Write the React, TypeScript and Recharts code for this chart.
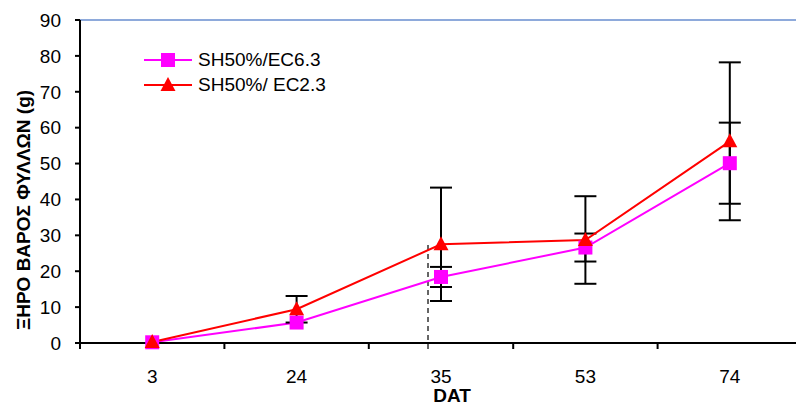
import { LineChart, Line, XAxis, YAxis, ErrorBar, ReferenceLine } from 'recharts';

const days = ['3', '24', '35', '53', '74'];
const ec63 = [0.2, 5.7, 18.4, 26.6, 50.1];
const ec63Err = [null, null, 2.8, 3.9, 11.3];
const ec23 = [0.3, 9.4, 27.5, 28.7, 56.2];
const ec23Err = [null, 3.7, 15.8, 12.2, 22];
const yTicks = [0, 10, 20, 30, 40, 50, 60, 70, 80, 90];

// dashed marker line, in units of the hidden numeric axis (0..5 spans the 5 categories)
const dashX = 2.41;
const dashTop = 27.3;
const dashBottom = -2.8;

const PINK = '#FF00FF';
const RED = '#FF0000';
const FONT = '"Liberation Sans", Arial, sans-serif';

const data = days.map((d, i) => ({
  day: d,
  pos: i + 0.5,
  ec63: ec63[i],
  ec63Err: ec63Err[i],
  ec23: ec23[i],
  ec23Err: ec23Err[i],
}));

const SquareDot = ({ cx, cy }) => {
  if (cx == null || cy == null) return null;
  return <rect x={cx - 7} y={cy - 7} width={14} height={14} fill={PINK} />;
};

const TriangleDot = ({ cx, cy }) => {
  if (cx == null || cy == null) return null;
  return <polygon points={`${cx},${cy - 8} ${cx + 7.5},${cy + 6} ${cx - 7.5},${cy + 6}`} fill={RED} />;
};

const XTick = ({ x, y, payload }) => {
  const half = payload?.offset || 72;
  return (
    <g>
      <line x1={x - half} y1={y} x2={x - half} y2={y + 6} stroke="#000" strokeWidth={2} />
      <text x={x} y={y + 40} textAnchor="middle" fontSize={19} fontFamily={FONT} fill="#000">
        {payload.value}
      </text>
    </g>
  );
};

const LegendRow = ({ color, label, marker }) => (
  <div style={{ display: 'flex', alignItems: 'center', height: 25 }}>
    <svg width={50} height={20}>
      <line x1={1} y1={10} x2={49} y2={10} stroke={color} strokeWidth={2} />
      {marker === 'square' ? (
        <rect x={18} y={3} width={14} height={14} fill={color} />
      ) : (
        <polygon points="25,2 32.5,16 17.5,16" fill={color} />
      )}
    </svg>
    <span style={{ marginLeft: 5, fontSize: 19, fontFamily: FONT, color: '#000', whiteSpace: 'nowrap' }}>{label}</span>
  </div>
);

export default function App() {
  return (
    <div style={{ position: 'absolute', left: 0, top: 0, width: 796, height: 403, overflow: 'hidden', background: '#fff' }}>
      <LineChart width={810} height={403} data={data} margin={{ top: 20, right: 8, bottom: 0, left: 0 }}>
        <ReferenceLine y={90} stroke="#8EAADB" strokeWidth={2} />
        <XAxis
          dataKey="day"
          scale="band"
          height={60}
          tickSize={0}
          tickMargin={0}
          tickLine={false}
          axisLine={{ stroke: '#000', strokeWidth: 2 }}
          tick={<XTick />}
          interval={0}
          label={{
            content: () => (
              <text x={452} y={402} textAnchor="middle" fontSize={19} fontWeight="bold" fontFamily={FONT} fill="#000">
                DAT
              </text>
            ),
          }}
        />
        <XAxis xAxisId="n" dataKey="pos" type="number" domain={[0, 5]} allowDataOverflow hide />
        <YAxis
          domain={[0, 90]}
          ticks={yTicks}
          width={80}
          tickSize={5}
          tickMargin={14}
          interval={0}
          axisLine={{ stroke: '#000', strokeWidth: 2 }}
          tickLine={{ stroke: '#000', strokeWidth: 2 }}
          tick={{ fontSize: 19, fontFamily: FONT, fill: '#000' }}
          label={{
            content: () => (
              <text
                transform="translate(30,210) rotate(-90)"
                textAnchor="middle"
                fontSize={19}
                fontWeight="bold"
                fontFamily={FONT}
                fill="#000"
              >
                ΞΗΡΟ ΒΑΡΟΣ ΦΥΛΛΩΝ (g)
              </text>
            ),
          }}
        />
        <ReferenceLine
          xAxisId="n"
          segment={[
            { x: dashX, y: dashTop },
            { x: dashX, y: dashBottom },
          ]}
          stroke="#333"
          strokeWidth={1.5}
          strokeDasharray="5 4"
          ifOverflow="visible"
        />
        <Line
          dataKey="ec63"
          stroke={PINK}
          strokeWidth={2}
          dot={<SquareDot />}
          activeDot={false}
          isAnimationActive={false}
        >
          <ErrorBar dataKey="ec63Err" width={11} stroke="#000" strokeWidth={2} direction="y" isAnimationActive={false} />
        </Line>
        <Line
          dataKey="ec23"
          stroke={RED}
          strokeWidth={2}
          dot={<TriangleDot />}
          activeDot={false}
          isAnimationActive={false}
        >
          <ErrorBar dataKey="ec23Err" width={11} stroke="#000" strokeWidth={2} direction="y" isAnimationActive={false} />
        </Line>
      </LineChart>
      <div style={{ position: 'absolute', left: 143, top: 47 }}>
        <LegendRow color={PINK} label="SH50%/EC6.3" marker="square" />
        <LegendRow color={RED} label="SH50%/ EC2.3" marker="triangle" />
      </div>
    </div>
  );
}
